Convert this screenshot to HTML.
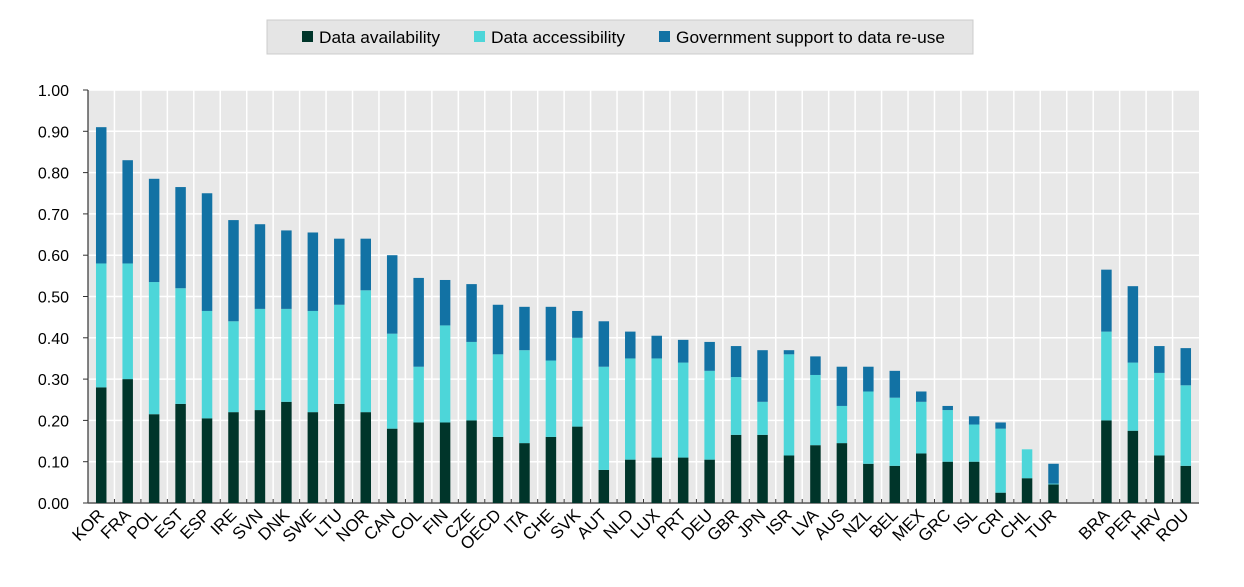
<!DOCTYPE html>
<html><head><meta charset="utf-8"><style>
body{margin:0;background:#fff;font-family:"Liberation Sans",Arial,sans-serif}
</style></head><body>
<svg id="chart" width="1244" height="582" xmlns="http://www.w3.org/2000/svg">
<rect x="267" y="20" width="706" height="34" fill="#e5e5e5" stroke="#ccc"/>
<g font-size="17" fill="#000">
<rect x="302" y="31" width="11" height="11" fill="#00352a"/>
<text x="319" y="43" textLength="121" lengthAdjust="spacingAndGlyphs">Data availability</text>
<rect x="474" y="31" width="11" height="11" fill="#4dd6d9"/>
<text x="491" y="43" textLength="134" lengthAdjust="spacingAndGlyphs">Data accessibility</text>
<rect x="659" y="31" width="11" height="11" fill="#1272a4"/>
<text x="676" y="43" textLength="269" lengthAdjust="spacingAndGlyphs">Government support to data re-use</text>
</g>
<rect x="88" y="90" width="1111" height="413" fill="#e8e8e8"/>
<g id="grid"></g><g id="bars"></g><g id="labels"></g>
</svg>
<script>
const categories=["KOR","FRA","POL","EST","ESP","IRE","SVN","DNK","SWE","LTU","NOR","CAN","COL","FIN","CZE","OECD","ITA","CHE","SVK","AUT","NLD","LUX","PRT","DEU","GBR","JPN","ISR","LVA","AUS","NZL","BEL","MEX","GRC","ISL","CRI","CHL","TUR","","BRA","PER","HRV","ROU"];
const availability=[0.28,0.30,0.215,0.24,0.205,0.22,0.225,0.245,0.22,0.24,0.22,0.18,0.195,0.195,0.20,0.16,0.145,0.16,0.185,0.08,0.105,0.11,0.11,0.105,0.165,0.165,0.115,0.14,0.145,0.095,0.09,0.12,0.10,0.10,0.025,0.06,0.045,0,0.20,0.175,0.115,0.09];
const accessibility=[0.30,0.28,0.32,0.28,0.26,0.22,0.245,0.225,0.245,0.24,0.295,0.23,0.135,0.235,0.19,0.20,0.225,0.185,0.215,0.25,0.245,0.24,0.23,0.215,0.14,0.08,0.245,0.17,0.09,0.175,0.165,0.125,0.125,0.09,0.155,0.07,0.002,0,0.215,0.165,0.20,0.195];
const support=[0.33,0.25,0.25,0.245,0.285,0.245,0.205,0.19,0.19,0.16,0.125,0.19,0.215,0.11,0.14,0.12,0.105,0.13,0.065,0.11,0.065,0.055,0.055,0.07,0.075,0.125,0.01,0.045,0.095,0.06,0.065,0.025,0.01,0.02,0.015,0,0.048,0,0.15,0.185,0.065,0.09];
const yTicks=[0,0.1,0.2,0.3,0.4,0.5,0.6,0.7,0.8,0.9,1.0];
const NS="http://www.w3.org/2000/svg";
const x0=88,x1=1199,yTop=90,yBot=503;
const step=(x1-x0)/categories.length;
const xc=i=>x0+step*(i+0.5);
const y=v=>yBot-(yBot-yTop)*v;
function mk(tag,attrs,parent){const e=document.createElementNS(NS,tag);for(const k in attrs)e.setAttribute(k,attrs[k]);parent.appendChild(e);return e;}
const grid=document.getElementById('grid'),bars=document.getElementById('bars'),labels=document.getElementById('labels');
yTicks.forEach(t=>{
  const l=mk('line',{x1:x0,x2:x1,y1:y(t),y2:y(t),stroke:'#fff','stroke-width':1.5},grid);
  
  
  mk('line',{x1:x0-5,x2:x0,y1:y(t),y2:y(t),stroke:'#333','stroke-width':1},grid);
  const tx=mk('text',{x:69,y:y(t)+6,'text-anchor':'end','font-size':16},labels);
  tx.textContent=t.toFixed(2);
  
  
});
categories.forEach((c,i)=>{
  if(i===0)return;
  const gx=x0+step*i;
  mk('line',{x1:gx,x2:gx,y1:yTop,y2:yBot,stroke:'#fff','stroke-width':1.5},grid);
  mk('line',{x1:gx,x2:gx,y1:yBot-4,y2:yBot,stroke:'#333','stroke-width':1},grid);
});
mk('line',{x1:x0,x2:x0,y1:yTop,y2:yBot,stroke:'#333','stroke-width':1.2},grid);
mk('line',{x1:x0,x2:x1,y1:yBot,y2:yBot,stroke:'#555','stroke-width':1.5},grid);
const bw=10.5;
categories.forEach((c,i)=>{
  if(!c)return;
  const segs=[[availability[i],'#00352a','availability'],[accessibility[i],'#4dd6d9','accessibility'],[support[i],'#1272a4','support']];
  let base=0;
  segs.forEach(s=>{
    const r=mk('rect',{x:xc(i)-bw/2,y:y(base+s[0]),width:bw,height:Math.max(0,y(base)-y(base+s[0])),fill:s[1]},bars);
    
    
    base+=s[0];
  });
  const ax=xc(i)+4, ay=yBot+13;
  const tx=mk('text',{x:ax,y:ay,'text-anchor':'end','font-size':17,transform:`rotate(-45 ${ax} ${ay})`},labels);
  tx.textContent=c;
  
  
});
</script>
</body></html>
